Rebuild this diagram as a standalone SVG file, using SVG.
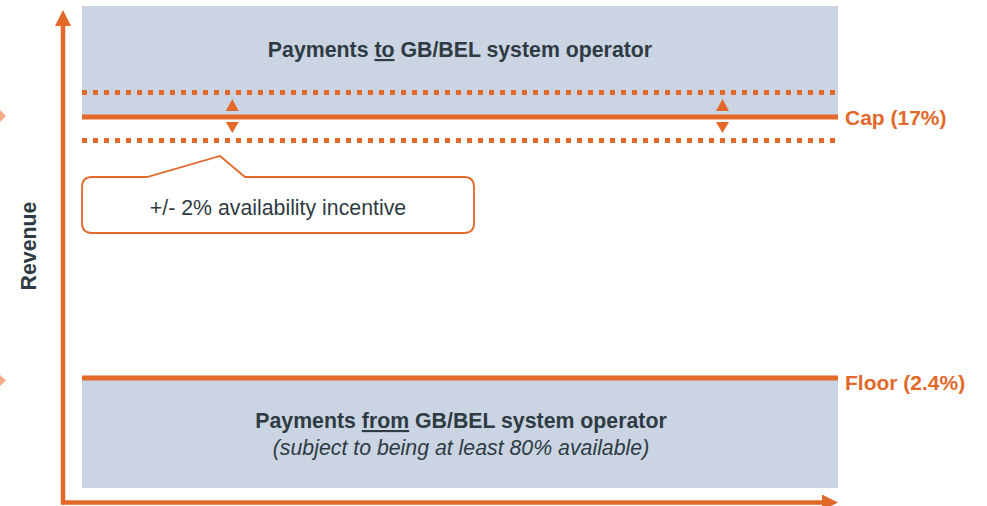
<svg xmlns="http://www.w3.org/2000/svg" width="987" height="506" viewBox="0 0 987 506">
  <defs>
    <style>
      .band { fill: #CAD4E2; }
      .txt { font-family: "Liberation Sans", Arial, sans-serif; font-size: 21.3px; fill: #2F3B42; }
      .b { font-weight: bold; }
      .lbl { font-family: "Liberation Sans", Arial, sans-serif; font-size: 21px; font-weight: bold; fill: #E3692B; }
      .solid { stroke: #E3692B; stroke-width: 5; fill: none; }
      .dot { stroke: #E3692B; stroke-width: 5; stroke-dasharray: 5 6; fill: none; }
      .axis { stroke: #E3692B; stroke-width: 4.5; fill: none; }
      .tri { fill: #E3692B; }
      .side { fill: #F3AC86; }
    </style>
    <marker id="arrow" viewBox="0 0 16 16" refX="1" refY="8" markerWidth="16" markerHeight="16" markerUnits="userSpaceOnUse" orient="auto">
      <path d="M0,0 L16,8 L0,16 Z" fill="#E3692B"/>
    </marker>
  </defs>

  <g id="side-markers">
    <polygon class="side" points="0,110 6,116 0,122"/>
    <polygon class="side" points="0,375 6,380.5 0,386"/>
  </g>

  <g id="top-band">
    <rect class="band" x="82" y="6" width="756" height="110"/>
    <text class="txt b" x="460" y="57" text-anchor="middle">Payments <tspan text-decoration="underline">to</tspan> GB/BEL system operator</text>
  </g>

  <g id="bottom-band">
    <rect class="band" x="82" y="378" width="756" height="110"/>
    <text class="txt b" x="461" y="428" text-anchor="middle">Payments <tspan text-decoration="underline">from</tspan> GB/BEL system operator</text>
    <text class="txt" x="461" y="455" text-anchor="middle" font-style="italic">(subject to being at least 80% available)</text>
  </g>

  <g id="cap">
    <line class="dot" x1="82" y1="92.5" x2="838" y2="92.5"/>
    <line class="solid" x1="82" y1="117" x2="838" y2="117"/>
    <line class="dot" x1="82" y1="140.5" x2="838" y2="140.5"/>
    <polygon class="tri" points="232.3,99 238.8,111 225.8,111"/>
    <polygon class="tri" points="225.8,122 238.8,122 232.3,133"/>
    <polygon class="tri" points="722.5,99 729,111 716,111"/>
    <polygon class="tri" points="716,122 729,122 722.5,133"/>
    <text class="lbl" x="845" y="125">Cap (17%)</text>
  </g>

  <g id="floor">
    <line class="solid" x1="82" y1="378" x2="838" y2="378"/>
    <text class="lbl" x="845" y="390">Floor (2.4%)</text>
  </g>

  <g id="callout">
    <path d="M92,177 L147,177 L220,156 L245,177 L464,177 Q474,177 474,187 L474,223 Q474,233 464,233 L92,233 Q82,233 82,223 L82,187 Q82,177 92,177 Z" fill="#FFFFFF" stroke="#E3692B" stroke-width="1.8" stroke-linejoin="miter"/>
    <text class="txt" x="278" y="215" text-anchor="middle">+/- 2% availability incentive</text>
  </g>

  <g id="revenue-label">
    <text class="txt b" transform="translate(36,246) rotate(-90)" text-anchor="middle">Revenue</text>
  </g>

  <g id="connectors">
    <path class="axis" d="M63,504.5 L63,25" marker-end="url(#arrow)"/>
    <path class="axis" d="M61,502.5 L823,502.5" marker-end="url(#arrow)"/>
  </g>
</svg>
